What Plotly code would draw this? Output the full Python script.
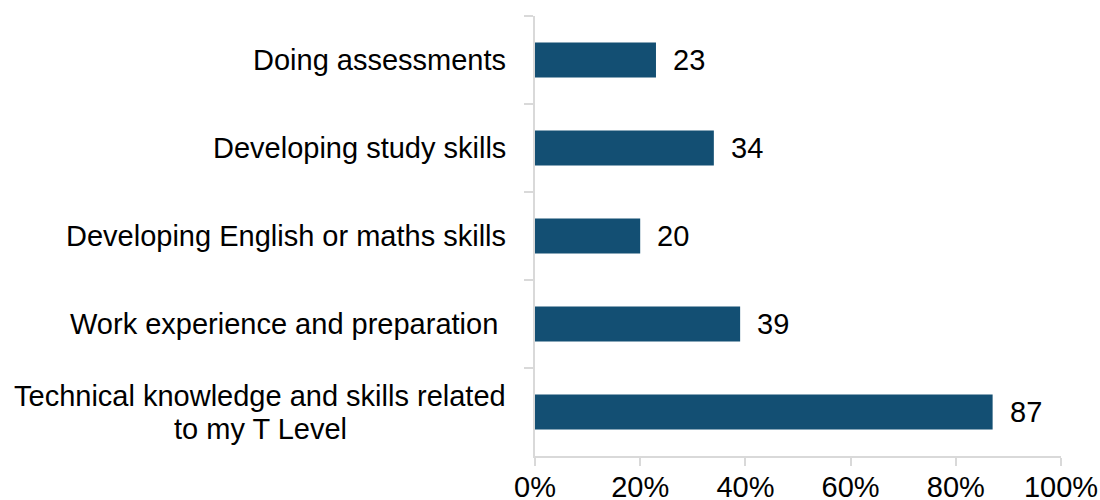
import plotly.graph_objects as go

# Survey responses: share of students (%) citing each area
categories = [
    "Doing assessments",
    "Developing study skills",
    "Developing English or maths skills",
    "Work experience and preparation\u00a0",
    "Technical knowledge and skills related<br>to my T Level",
]
values = [23, 34, 20, 39, 87]
x_ticks = [0, 20, 40, 60, 80, 100]
x_tick_labels = ["0%", "20%", "40%", "60%", "80%", "100%"]

BAR = "#134F73"
AXIS = "#D9D9D9"
FONT = "Liberation Sans, Arial, sans-serif"
FS = 29
LABEL_GAP = 27      # px between label block and the y axis
WRAP_CENTRE = 248   # half width of the widest wrapped line, px
LINE_GAP = 33       # px between wrapped label lines

fig = go.Figure(
    go.Bar(
        x=values,
        y=categories,
        orientation="h",
        width=0.4,
        marker=dict(color=BAR, line=dict(width=0)),
        hoverinfo="skip",
    )
)

# value labels just past the end of each bar
for cat, v in zip(categories, values):
    fig.add_annotation(
        x=v, y=cat, xref="x", yref="y",
        text=str(v), showarrow=False,
        xanchor="left", yanchor="middle", xshift=15,
        font=dict(family=FONT, size=FS, color="#000000"),
    )

# category labels; wrapped ones are stacked line by line, centred on each other
for cat in categories:
    lines = cat.split("<br>")
    n = len(lines)
    for i, line in enumerate(lines):
        yshift = ((n - 1) / 2 - i) * LINE_GAP
        if n == 1:
            anchor, xshift = "right", -LABEL_GAP
        else:
            anchor, xshift = "center", -LABEL_GAP - WRAP_CENTRE
        fig.add_annotation(
            x=0, y=cat, xref="paper", yref="y",
            text=line, showarrow=False, align="center",
            xanchor=anchor, yanchor="middle",
            xshift=xshift, yshift=yshift,
            font=dict(family=FONT, size=FS, color="#000000"),
        )

fig.update_layout(
    width=1100,
    height=500,
    margin=dict(l=535, r=39, t=16, b=44, autoexpand=False),
    paper_bgcolor="white",
    plot_bgcolor="white",
    showlegend=False,
    font=dict(family=FONT, size=FS, color="#000000"),
    xaxis=dict(
        range=[0, 100],
        tickvals=x_ticks,
        ticktext=x_tick_labels,
        showgrid=False,
        zeroline=False,
        showline=True,
        linecolor=AXIS,
        linewidth=1.5,
        ticks="outside",
        ticklen=8,
        tickwidth=1.5,
        tickcolor=AXIS,
        ticklabelstandoff=-4,
        tickfont=dict(family=FONT, size=FS, color="#000000"),
        automargin=False,
    ),
    yaxis=dict(
        categoryorder="array",
        categoryarray=categories,
        autorange="reversed",
        showgrid=False,
        zeroline=False,
        showline=True,
        linecolor=AXIS,
        linewidth=1.5,
        ticks="outside",
        tickson="boundaries",
        ticklen=9,
        tickwidth=1.5,
        tickcolor=AXIS,
        showticklabels=False,
        automargin=False,
    ),
)

fig.write_html("out.html")
